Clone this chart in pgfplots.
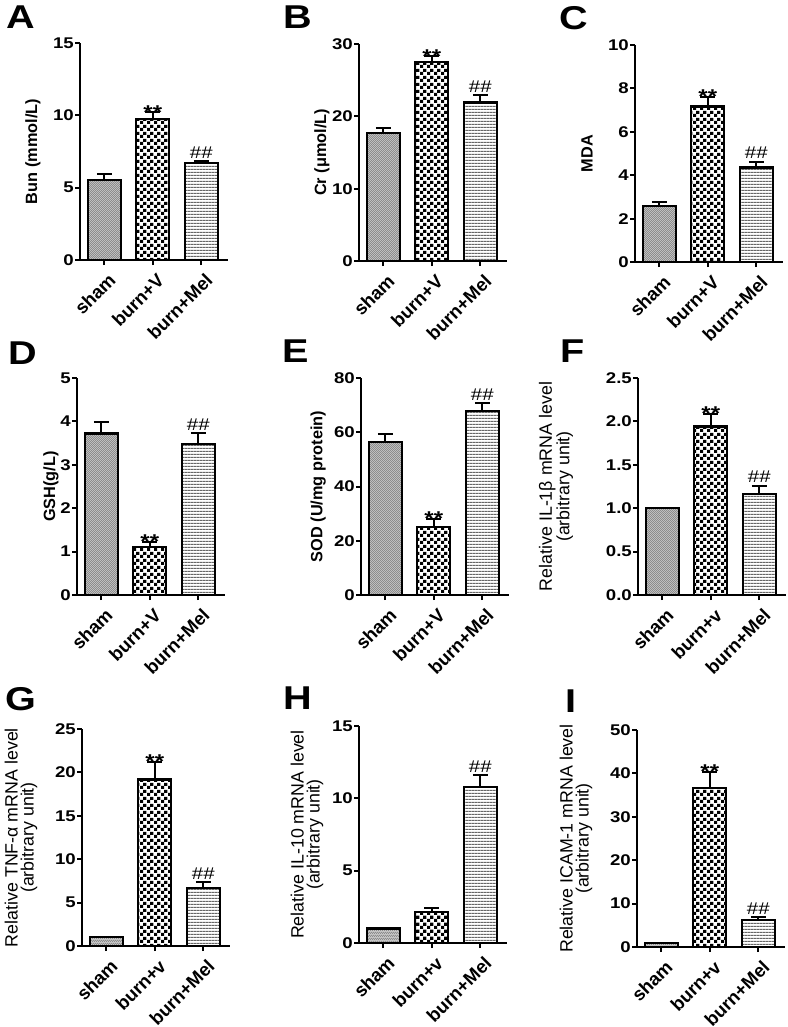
\documentclass[border=0pt]{standalone}
\usepackage{pgfplots}
\pgfplotsset{compat=1.18}
\usepackage{fontspec}
\setmainfont{Liberation Sans}
\newfontfamily\stfont[FakeStretch=1.2]{Liberation Sans}
\usetikzlibrary{patterns}

\pgfdeclarepatternformonly{finecheck}{\pgfpointorigin}{\pgfqpoint{2.4pt}{2.4pt}}{\pgfqpoint{2.4pt}{2.4pt}}{%
  \pgfpathrectangle{\pgfpointorigin}{\pgfqpoint{1.2pt}{1.2pt}}%
  \pgfpathrectangle{\pgfqpoint{1.2pt}{1.2pt}}{\pgfqpoint{1.2pt}{1.2pt}}%
  \pgfusepath{fill}}
\pgfdeclarepatternformonly{bigcheck}{\pgfpointorigin}{\pgfqpoint{7pt}{7pt}}{\pgfqpoint{7pt}{7pt}}{%
  \pgfpathrectangle{\pgfpointorigin}{\pgfqpoint{3.5pt}{3.5pt}}%
  \pgfpathrectangle{\pgfqpoint{3.5pt}{3.5pt}}{\pgfqpoint{3.5pt}{3.5pt}}%
  \pgfusepath{fill}}
\pgfdeclarepatternformonly{hlinesfine}{\pgfpointorigin}{\pgfqpoint{3.2pt}{3.2pt}}{\pgfqpoint{3.2pt}{3.2pt}}{%
  \pgfpathrectangle{\pgfpointorigin}{\pgfqpoint{3.2pt}{1.3pt}}%
  \pgfusepath{fill}}

\pgfplotsset{
  panel/.style={
    scale only axis, width=148pt, height=217pt,
    anchor=south west,
    xmin=-0.5, xmax=2.55, ymin=0,
    axis x line*=bottom, axis y line*=left,
    axis line style={line width=2pt, -},
    xtick={0,1,2},
    tick align=outside,
    major tick length=5pt,
    tick style={line width=2pt, black},
    /pgf/number format/assume math mode=true,
    yticklabel style={font=\stfont\bfseries\fontsize{15.5}{16}\selectfont, inner sep=1pt},
    xticklabel style={font=\bfseries\fontsize{18.5}{19}\selectfont, xshift=3pt, yshift=-7pt, rotate=45, anchor=north east, inner sep=0pt},
    bar shift=0pt, bar width=33pt,
    clip=false,
  },
  ylpos/.style={ylabel style={at={(axis description cs:#1,0.5)}, anchor=center}},
  blab/.style={ylabel style={font=\bfseries\fontsize{16.3}{18}\selectfont}},
  rlab/.style={ylabel style={font=\fontsize{17.8}{16}\selectfont, align=center}},
}

\newcommand{\bars}[6]{%
  \addplot[ybar, draw=black, line width=2.3pt, fill=black!22,
    postaction={pattern=finecheck, pattern color=black!45},
    error bars/.cd, y dir=plus, y explicit,
    error bar style={line width=2pt, black},
    error mark options={rotate=90, mark size=7.5pt, line width=2pt, black}]
    coordinates {(0,#1) +- (0,#2)};
  \addplot[ybar, draw=black, line width=2.3pt, pattern=bigcheck, pattern color=black,
    error bars/.cd, y dir=plus, y explicit,
    error bar style={line width=2pt, black},
    error mark options={rotate=90, mark size=7.5pt, line width=2pt, black}]
    coordinates {(1,#3) +- (0,#4)};
  \addplot[ybar, draw=black, line width=2.3pt, pattern=hlinesfine, pattern color=black!60,
    error bars/.cd, y dir=plus, y explicit,
    error bar style={line width=2pt, black},
    error mark options={rotate=90, mark size=7.5pt, line width=2pt, black}]
    coordinates {(2,#5) +- (0,#6)};
}
\newcommand{\stars}[2]{\node[anchor=south, inner sep=0pt, yshift=-7pt, font=\stfont\bfseries\fontsize{20}{20}\selectfont] at (axis cs:#1,#2) {**};}
\newcommand{\hashes}[2]{\node[anchor=south, inner sep=0pt, yshift=2.5pt, font=\stfont\fontsize{17}{17}\selectfont] at (axis cs:#1,#2) {\#\#};}

\begin{document}
\begin{tikzpicture}
\path[use as bounding box] (0,0) rectangle (787pt,-1027pt);
\tikzset{plab/.style={anchor=north west, inner sep=0pt, font=\stfont\bfseries\fontsize{33}{33}\selectfont}}
\node[plab] at (6pt,-6pt) {A};
\node[plab] at (283pt,-6pt) {B};
\node[plab] at (559pt,-6pt) {C};
\node[plab] at (8pt,-342pt) {D};
\node[plab] at (282pt,-340pt) {E};
\node[plab] at (560pt,-340pt) {F};
\node[plab] at (5pt,-687pt) {G};
\node[plab] at (283pt,-687pt) {H};
\node[plab] at (565pt,-690pt) {I};

% A
\begin{axis}[panel, at={(80pt,-260pt)}, ymax=15, ytick={0,5,10,15},
  xticklabels={sham,burn+V,burn+Mel}, blab, ylpos=-0.318,
  ylabel={Bun (mmol/L)}]
\bars{5.53}{0.41}{9.75}{0.45}{6.70}{0.15}
\stars{1}{10.2}
\hashes{2}{6.85}
\end{axis}
% B
\begin{axis}[panel, at={(359pt,-261pt)}, ymax=30, ytick={0,10,20,30},
  xticklabels={sham,burn+V,burn+Mel}, blab, ylpos=-0.25,
  ylabel={Cr (μmol/L)}]
\bars{17.7}{0.7}{27.5}{0.8}{21.9}{1.0}
\stars{1}{28.3}
\hashes{2}{22.9}
\end{axis}
% C
\begin{axis}[panel, at={(635pt,-262pt)}, ymax=10, ytick={0,2,4,6,8,10},
  xticklabels={sham,burn+V,burn+Mel}, blab, ylpos=-0.324,
  ylabel={MDA}]
\bars{2.57}{0.18}{7.16}{0.45}{4.36}{0.27}
\stars{1}{7.61}
\hashes{2}{4.63}
\end{axis}
% D
\begin{axis}[panel, at={(77pt,-595pt)}, ymax=5, ytick={0,1,2,3,4,5},
  xticklabels={sham,burn+V,burn+Mel}, blab, ylpos=-0.176,
  ylabel={GSH(g/L)}]
\bars{3.72}{0.27}{1.10}{0.12}{3.48}{0.25}
\stars{1}{1.22}
\hashes{2}{3.73}
\end{axis}
% E
\begin{axis}[panel, at={(361pt,-595pt)}, ymax=80, ytick={0,20,40,60,80},
  xticklabels={sham,burn+V,burn+Mel}, blab, ylpos=-0.29,
  ylabel={SOD (U/mg protein)}]
\bars{56.3}{3.0}{25.2}{2.9}{67.8}{2.9}
\stars{1}{28.1}
\hashes{2}{70.7}
\end{axis}
% F
\begin{axis}[panel, at={(638pt,-595pt)}, ymax=2.5, ytick={0,0.5,1,1.5,2,2.5},
  yticklabel style={/pgf/number format/.cd, fixed, fixed zerofill, precision=1},
  xticklabels={sham,burn+v,burn+Mel}, rlab, ylpos=-0.554,
  ylabel={Relative IL-1β mRNA level\\(arbitrary unit)}]
\bars{1.0}{0}{1.94}{0.15}{1.16}{0.10}
\stars{1}{2.09}
\hashes{2}{1.26}
\end{axis}
% G
\begin{axis}[panel, at={(82pt,-946pt)}, ymax=25, ytick={0,5,10,15,20,25},
  xticklabels={sham,burn+v,burn+Mel}, rlab, ylpos=-0.412,
  ylabel={Relative TNF-α mRNA level\\(arbitrary unit)}]
\bars{1.0}{0}{19.2}{2.0}{6.7}{0.7}
\stars{1}{21.2}
\hashes{2}{7.4}
\end{axis}
% H
\begin{axis}[panel, at={(359pt,-943pt)}, ymax=15, ytick={0,5,10,15},
  xticklabels={sham,burn+v,burn+Mel}, rlab, ylpos=-0.351,
  ylabel={Relative IL-10 mRNA level\\(arbitrary unit)}]
\bars{1.0}{0}{2.15}{0.3}{10.8}{0.8}
\hashes{2}{11.6}
\end{axis}
% I
\begin{axis}[panel, at={(637pt,-947pt)}, ymax=50, ytick={0,10,20,30,40,50},
  xticklabels={sham,burn+v,burn+Mel}, rlab, ylpos=-0.412,
  ylabel={Relative ICAM-1 mRNA level\\(arbitrary unit)}]
\bars{1.0}{0}{36.6}{3.7}{6.25}{0.7}
\stars{1}{40.3}
\hashes{2}{6.9}
\end{axis}
\end{tikzpicture}
\end{document}
